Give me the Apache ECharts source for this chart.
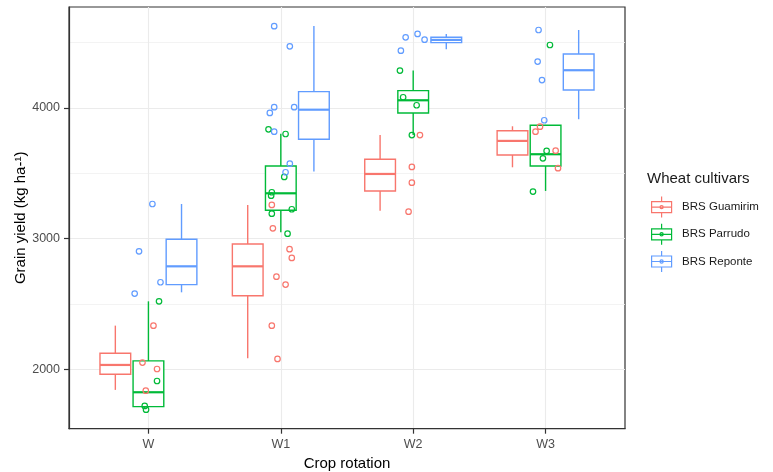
<!DOCTYPE html>
<html>
<head>
<meta charset="utf-8">
<script src="https://cdn.jsdelivr.net/npm/echarts@6/dist/echarts.min.js"></script>
<style>
  html, body { margin: 0; padding: 0; background: #fff; }
  #chart { width: 773px; height: 472px; }
</style>
</head>
<body>
<div id="chart"></div>
<script>
const rotations = ['W', 'W1', 'W2', 'W3']
const cultivars = ['BRS Guamirim', 'BRS Parrudo', 'BRS Reponte']
const colors = ['#F8766D', '#00BA38', '#619CFF']
const yTicks = [2000, 3000, 4000]
const yMinorTicks = [2500, 3500, 4500]

// box stats per rotation: [lower whisker, Q1, median, Q3, upper whisker]
const guamirimBox = [
  [1842, 1962, 2033, 2122, 2334],
  [2084, 2563, 2788, 2959, 3258],
  [3214, 3365, 3495, 3607, 3793],
  [3546, 3640, 3748, 3826, 3860],
]
const parrudoBox = [
  [1714, 1714, 1824, 2064, 2520],
  [3049, 3217, 3347, 3556, 3803],
  [3793, 3962, 4059, 4133, 4286],
  [3365, 3556, 3646, 3868, 3868],
]
const reponteBox = [
  [2589, 2648, 2788, 2995, 3265],
  [3513, 3761, 3987, 4125, 4628],
  [4449, 4500, 4521, 4541, 4567],
  [3914, 4138, 4289, 4413, 4597],
]

// jittered observations: [rotation position (jittered), yield]
const guamirimPts = [
  [-0.045, 2051], [0.065, 2002], [0.038, 2334], [-0.02, 1836],
  [0.932, 3258], [0.94, 3079], [1.066, 2919], [1.083, 2852], [0.967, 2709], [1.036, 2648], [0.932, 2334], [0.975, 2079],
  [2.051, 3793], [1.99, 3549], [1.99, 3428], [1.965, 3206],
  [2.924, 3819], [2.958, 3857], [3.076, 3673], [3.094, 3539],
]
const parrudoPts = [
  [0.08, 2520], [0.065, 1910], [-0.028, 1719], [-0.018, 1691],
  [0.907, 3837], [1.036, 3801], [1.026, 3472], [0.932, 3355], [0.927, 3329], [1.083, 3225], [0.932, 3191], [1.051, 3038],
  [1.9, 4286], [1.924, 4082], [2.026, 4021], [1.99, 3793],
  [3.033, 4482], [3.008, 3671], [2.98, 3615], [2.905, 3360],
]
const repontePts = [
  [0.03, 3265], [-0.071, 2903], [0.091, 2666], [-0.104, 2579],
  [0.95, 4626], [1.068, 4472], [0.95, 4006], [0.917, 3962], [1.101, 4006], [0.95, 3819], [1.068, 3574], [1.036, 3508],
  [1.943, 4541], [2.033, 4567], [2.086, 4523], [1.907, 4439],
  [2.947, 4597], [2.94, 4355], [2.973, 4214], [2.99, 3906],
]

const boxes = [guamirimBox, parrudoBox, reponteBox]
const points = [guamirimPts, parrudoPts, repontePts]
const dodge = [-0.25, 0, 0.25]
const boxHalf = 0.116
const FONT = '"Liberation Sans", Arial, sans-serif'
const legendIcon = 'path://M0,5H20V16H0Z M0,10.5H20 M10,0V5 M10,16V21 M11.6,10.5A1.6,1.6 0 1 1 8.4,10.5A1.6,1.6 0 1 1 11.6,10.5'

const chart = echarts.init(document.getElementById('chart'))

function boxRenderer(k) {
  const color = colors[k]
  return function (params, api) {
    const x = api.value(0) + dodge[k]
    const lo = api.coord([x, api.value(1)])
    const q1 = api.coord([x, api.value(2)])
    const md = api.coord([x, api.value(3)])
    const q3 = api.coord([x, api.value(4)])
    const hi = api.coord([x, api.value(5)])
    const hw = api.size([boxHalf, 0])[0]
    const stroke = { stroke: color, lineWidth: 1.4 }
    return {
      type: 'group',
      children: [
        { type: 'line', shape: { x1: hi[0], y1: hi[1], x2: q3[0], y2: q3[1] }, style: stroke },
        { type: 'line', shape: { x1: q1[0], y1: q1[1], x2: lo[0], y2: lo[1] }, style: stroke },
        {
          type: 'rect',
          shape: { x: q3[0] - hw, y: q3[1], width: hw * 2, height: q1[1] - q3[1] },
          style: { fill: '#fff', stroke: color, lineWidth: 1.4 },
        },
        {
          type: 'line',
          shape: { x1: md[0] - hw, y1: md[1], x2: md[0] + hw, y2: md[1] },
          style: { stroke: color, lineWidth: 2.2 },
        },
      ],
    }
  }
}

const boxSeries = cultivars.map((name, k) => ({
  name,
  type: 'custom',
  xAxisIndex: 0,
  yAxisIndex: 0,
  itemStyle: { color: colors[k] },
  renderItem: boxRenderer(k),
  encode: { x: 0, y: [1, 2, 3, 4, 5] },
  data: boxes[k].map((b, i) => [i, ...b]),
  z: 2,
}))

const pointSeries = cultivars.map((name, k) => ({
  name,
  type: 'scatter',
  xAxisIndex: 0,
  yAxisIndex: 0,
  symbol: 'circle',
  symbolSize: 5.5,
  itemStyle: { color: 'rgba(0,0,0,0)', borderColor: colors[k], borderWidth: 1.2, opacity: 1 },
  data: points[k],
  z: 3,
}))

const option = {
  backgroundColor: '#fff',
  animation: false,
  textStyle: { fontFamily: FONT },
  title: {
    text: 'Wheat cultivars',
    left: 647,
    top: 171,
    padding: 0,
    textStyle: { fontFamily: FONT, fontSize: 15, fontWeight: 'normal', color: '#1a1a1a' },
  },
  legend: {
    orient: 'vertical',
    left: 651,
    top: 196,
    padding: 0,
    itemWidth: 21,
    itemHeight: 21,
    itemGap: 5,
    selectedMode: false,
    textStyle: { fontFamily: FONT, fontSize: 11.5, color: '#1a1a1a', padding: [0, 0, 0, 5] },
    data: cultivars.map((name, k) => ({
      name,
      icon: legendIcon,
      itemStyle: { color: 'rgba(0,0,0,0)', borderColor: colors[k], borderWidth: 1.2 },
    })),
  },
  grid: {
    left: 69,
    right: 148,
    top: 7,
    bottom: 43.3,
    outerBoundsMode: 'none',
    containLabel: false,
    show: true,
    backgroundColor: '#fff',
    borderColor: '#333333',
    borderWidth: 1.2,
  },
  xAxis: {
    type: 'value',
    min: -0.6,
    max: 3.6,
    name: 'Crop rotation',
    nameLocation: 'middle',
    nameGap: 28,
    nameTextStyle: { fontFamily: FONT, fontSize: 15, color: '#000' },
    axisLine: { show: true, onZero: false, lineStyle: { color: '#333333', width: 1.2 } },
    axisTick: { show: true, length: 5, customValues: [0, 1, 2, 3], lineStyle: { color: '#333333', width: 1.2 } },
    axisLabel: {
      customValues: [0, 1, 2, 3],
      margin: 9,
      fontFamily: FONT,
      fontSize: 12.5,
      color: '#4d4d4d',
      formatter: (v) => rotations[Math.round(v)],
    },
    splitLine: { show: true, lineStyle: { color: '#ebebeb', width: 1.1 } },
  },
  yAxis: [
    {
      type: 'value',
      min: 1545,
      max: 4773,
      name: 'Grain yield (kg ha-¹)',
      nameLocation: 'middle',
      nameGap: 41,
      nameMoveOverlap: false,
      nameTextStyle: { fontFamily: FONT, fontSize: 15, color: '#000' },
      axisLine: { show: true, onZero: false, lineStyle: { color: '#333333', width: 1.2 } },
      axisTick: { show: true, length: 5, customValues: yTicks, lineStyle: { color: '#333333', width: 1.2 } },
      axisLabel: {
        customValues: yTicks,
        margin: 9,
        fontFamily: FONT,
        fontSize: 12.5,
        color: '#4d4d4d',
        formatter: (v) => String(v),
      },
      splitLine: { show: true, lineStyle: { color: '#ebebeb', width: 1.1 } },
    },
    {
      type: 'value',
      min: 1545,
      max: 4773,
      position: 'left',
      axisLine: { show: false, onZero: false },
      axisTick: { show: false, customValues: yMinorTicks },
      axisLabel: { show: false, customValues: yMinorTicks },
      splitLine: { show: true, lineStyle: { color: '#f0f0f0', width: 0.8 } },
    },
  ],
  series: [...boxSeries, ...pointSeries],
}

chart.setOption(option)
</script>
</body>
</html>
